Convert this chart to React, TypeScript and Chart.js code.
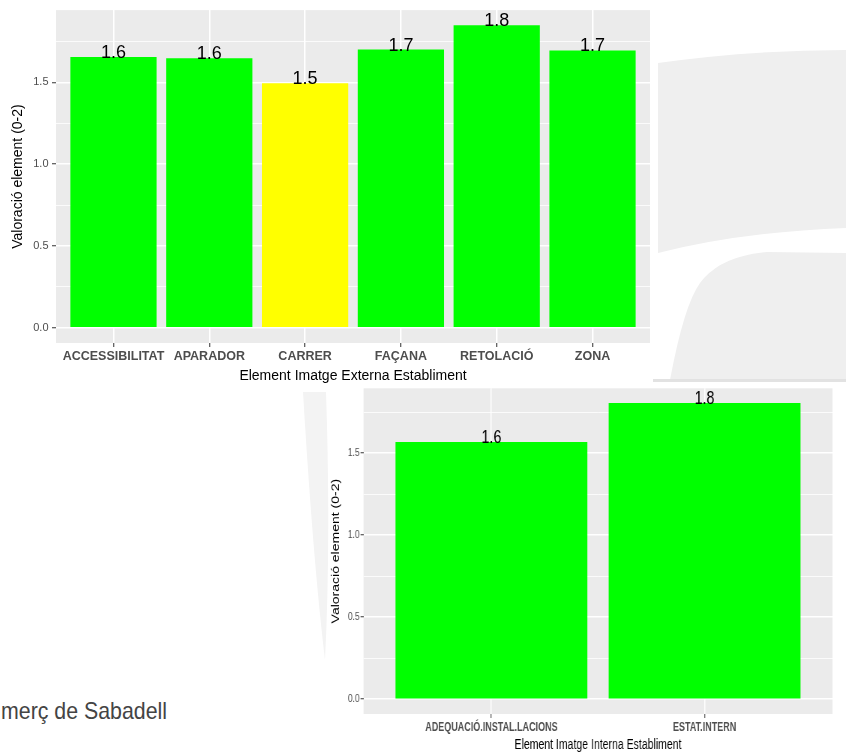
import React, { useEffect, useRef } from "react";
import { Chart, registerables } from "chart.js";

Chart.register(...registerables);

// ---- Data ----
const extCategories = ["ACCESSIBILITAT", "APARADOR", "CARRER", "FAÇANA", "RETOLACIÓ", "ZONA"];
const extValues = [1.655, 1.648, 1.495, 1.7, 1.849, 1.695];
const extLabels = ["1.6", "1.6", "1.5", "1.7", "1.8", "1.7"];
const extColors = ["#00FF00", "#00FF00", "#FFFF00", "#00FF00", "#00FF00", "#00FF00"];

const intCategories = ["ADEQUACIÓ.INSTAL.LACIONS", "ESTAT.INTERN"];
const intValues = [1.568, 1.805];
const intLabels = ["1.6", "1.8"];
const intColors = ["#00FF00", "#00FF00"];

const yTickValues = [0, 0.25, 0.5, 0.75, 1, 1.25, 1.5, 1.75];
const yTickLabels = ["0.0", "", "0.5", "", "1.0", "", "1.5", ""];

const yTitle = "Valoració element (0-2)";
const extXTitle = "Element Imatge Externa Establiment";
const intXTitle = "Element Imatge Interna Establiment";
const footerText = "merç de Sabadell";

const FONT = "'Liberation Sans', Arial, sans-serif";

const panelBg = {
  id: "panelBg",
  beforeDraw(chart: any) {
    const { ctx, chartArea } = chart;
    ctx.save();
    ctx.fillStyle = "#EBEBEB";
    ctx.fillRect(chartArea.left, chartArea.top, chartArea.right - chartArea.left, chartArea.bottom - chartArea.top);
    ctx.restore();
  },
};

const barLabels = {
  id: "barLabels",
  afterDatasetsDraw(chart: any, _args: any, opts: any) {
    const { ctx } = chart;
    const meta = chart.getDatasetMeta(0);
    ctx.save();
    ctx.font = `${opts.size}px ${FONT}`;
    ctx.fillStyle = "#000";
    ctx.textAlign = "center";
    ctx.textBaseline = "alphabetic";
    meta.data.forEach((el: any, i: number) => {
      ctx.fillText(opts.labels[i], el.x, el.y + 1);
    });
    ctx.restore();
  },
};

function makeConfig(o: any) {
  const n = o.categories.length;
  const vmax = Math.max(...o.values);
  const pad = vmax * 0.05;
  return {
    type: "bar",
    data: {
      datasets: [
        {
          data: o.values.map((v: number, i: number) => ({ x: i + 1, y: v })),
          backgroundColor: o.colors,
          borderWidth: 0,
          barPercentage: 0.9,
          categoryPercentage: 1,
        },
      ],
    },
    options: {
      animation: false,
      responsive: false,
      devicePixelRatio: 1,
      layout: { padding: o.padding },
      plugins: {
        legend: { display: false },
        tooltip: { enabled: false },
        barLabels: { labels: o.labels, size: o.labelSize },
      },
      scales: {
        x: {
          type: "linear",
          offset: false,
          min: 0.4,
          max: n + 0.6,
          afterBuildTicks: (s: any) => {
            s.ticks = o.categories.map((_: string, i: number) => ({ value: i + 1 }));
          },
          afterFit: (s: any) => {
            s.height = o.xAxisHeight;
          },
          border: { display: false },
          grid: {
            offset: false,
            color: "#FFFFFF",
            lineWidth: 1.5,
            tickLength: 4,
            tickColor: "#333333",
            tickWidth: 1,
          },
          ticks: {
            autoSkip: false,
            maxRotation: 0,
            padding: 2,
            color: "#4D4D4D",
            font: { family: FONT, size: o.xTickSize, weight: "bold" },
            callback: (v: number) => o.categories[Math.round(v) - 1] ?? "",
          },
          title: {
            display: true,
            text: o.xTitle,
            color: "#000",
            font: { family: FONT, size: 14 },
            padding: { top: 0, bottom: o.xTitlePad },
          },
        },
        y: {
          type: "linear",
          min: -pad,
          max: vmax + pad,
          afterBuildTicks: (s: any) => {
            s.ticks = yTickValues.map((v) => ({ value: v }));
          },
          afterFit: (s: any) => {
            s.width = o.yAxisWidth;
          },
          border: { display: false },
          grid: {
            color: "#FFFFFF",
            lineWidth: (c: any) => (c.index % 2 === 0 ? 1.5 : 0.8),
            tickLength: 4,
            tickColor: (c: any) => (c.index % 2 === 0 ? "#333333" : "rgba(0,0,0,0)"),
            tickWidth: 1,
          },
          ticks: {
            autoSkip: false,
            padding: o.yTickPad,
            color: "#4D4D4D",
            font: { family: FONT, size: o.yTickSize },
            callback: (_v: number, i: number) => yTickLabels[i] ?? "",
          },
          title: {
            display: true,
            text: yTitle,
            color: "#000",
            font: { family: FONT, size: 14 },
            padding: { top: o.yTitlePad, bottom: 0 },
          },
        },
      },
    },
    plugins: [panelBg, barLabels],
  };
}

function BarChart({ config, width, height, style }: any) {
  const ref = useRef<HTMLCanvasElement>(null);
  useEffect(() => {
    const chart = new Chart(ref.current as HTMLCanvasElement, config as any);
    return () => chart.destroy();
  }, []);
  return <canvas ref={ref} width={width} height={height} style={style} />;
}

const extConfig = makeConfig({
  categories: extCategories,
  values: extValues,
  labels: extLabels,
  colors: extColors,
  padding: { left: 0, top: 7, right: 10, bottom: 0 },
  xAxisHeight: 42,
  yAxisWidth: 56,
  xTickSize: 12.5,
  yTickSize: 11,
  yTickPad: 3.5,
  yTitlePad: 9.6,
  xTitlePad: 0.6,
  labelSize: 18,
  xTitle: extXTitle,
});

const intConfig = makeConfig({
  categories: intCategories,
  values: intValues,
  labels: intLabels,
  colors: intColors,
  padding: { left: 0, top: 8.3, right: 18, bottom: 0 },
  xAxisHeight: 40,
  yAxisWidth: 84.7,
  xTickSize: 12,
  yTickSize: 11.5,
  yTickPad: 1,
  yTitlePad: 39.6,
  xTitlePad: 0,
  labelSize: 19,
  xTitle: intXTitle,
});

export default function App() {
  return (
    <div style={{ position: "absolute", left: 0, top: 0, width: 846, height: 754, overflow: "hidden", background: "#FFFFFF" }}>
      <svg width={846} height={754} style={{ position: "absolute", left: 0, top: 0 }}>
        <path d="M658,63 Q750,50 846,50 L846,228 Q740,232 658,253 Z" fill="#EFEFEF" />
        <path d="M846,253 L767,252 Q720,256 700,283 Q684,305 670,380 L846,380 Z" fill="#EFEFEF" />
        <path d="M303,392 L326,392 Q331,540 325,660 Q313,560 303,392 Z" fill="#F3F3F3" />
        <rect x={653} y={379} width={193} height={3} fill="#E2E2E2" />
        <text
          x={1}
          y={719}
          fontFamily="'Liberation Sans', Arial, sans-serif"
          fontSize={24}
          fill="#444444"
          textLength={166}
          lengthAdjust="spacingAndGlyphs"
        >
          {footerText}
        </text>
      </svg>
      <BarChart config={extConfig} width={660} height={385} style={{ position: "absolute", left: 0, top: 0 }} />
      <BarChart
        config={intConfig}
        width={728}
        height={374}
        style={{ position: "absolute", left: 300, top: 380, transform: "scaleX(0.75)", transformOrigin: "0 0" }}
      />
    </div>
  );
}
